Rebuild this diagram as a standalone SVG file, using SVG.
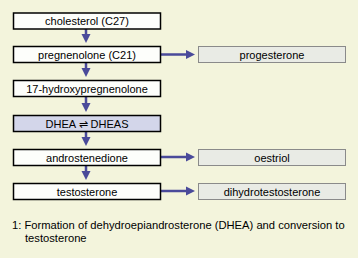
<svg xmlns="http://www.w3.org/2000/svg" width="358" height="258" viewBox="0 0 358 258">
<style>
text{font-family:"Liberation Sans",Arial,sans-serif;font-size:11px;fill:#000}
.c{text-anchor:middle}
.cap{font-size:11.2px}
.b{fill:#fdfefb;stroke:#000;stroke-width:1.5}
.d{fill:#d3d6ea;stroke:#000;stroke-width:1.5}
.r{fill:#e9ebe5;stroke:#8a8a8a;stroke-width:1}
.l{stroke:#4a4a9a;stroke-width:2.5;fill:none}
.h{fill:#4a4a9a}
</style>
<rect width="358" height="258" fill="#f3f4dc"/>
<g id="connectors">
<line class="l" x1="86" y1="29" x2="86" y2="36"/><polygon class="h" points="81.5,34 90.5,34 86,43"/>
<line class="l" x1="86" y1="63" x2="86" y2="70"/><polygon class="h" points="81.5,68 90.5,68 86,77"/>
<line class="l" x1="86" y1="97" x2="86" y2="105"/><polygon class="h" points="81.5,103 90.5,103 86,112"/>
<line class="l" x1="86" y1="132" x2="86" y2="139"/><polygon class="h" points="81.5,137 90.5,137 86,146"/>
<line class="l" x1="86" y1="166" x2="86" y2="173"/><polygon class="h" points="81.5,171 90.5,171 86,180"/>
<line class="l" x1="161" y1="54.5" x2="189" y2="54.5"/><polygon class="h" points="186,50 186,59 195,54.5"/>
<line class="l" x1="161" y1="157" x2="189" y2="157"/><polygon class="h" points="186,152.5 186,161.5 195,157"/>
<line class="l" x1="161" y1="191" x2="189" y2="191"/><polygon class="h" points="186,186.5 186,195.5 195,191"/>
</g>
<g id="cholesterol"><rect class="b" x="13.5" y="13" width="147" height="16"/><text class="c" x="87" y="25">cholesterol (C27)</text></g>
<g id="pregnenolone"><rect class="b" x="13.5" y="46.5" width="147" height="16"/><text class="c" x="87" y="58.5">pregnenolone (C21)</text></g>
<g id="hydroxy"><rect class="b" x="13.5" y="80.5" width="147" height="16"/><text class="c" x="87" y="92.5">17-hydroxypregnenolone</text></g>
<g id="dhea"><rect class="d" x="13.5" y="115.5" width="147" height="16"/><text class="c" x="87" y="127.5">DHEA ⇌ DHEAS</text></g>
<g id="androstenedione"><rect class="b" x="13.5" y="149.5" width="147" height="16"/><text class="c" x="87" y="161.5">androstenedione</text></g>
<g id="testosterone"><rect class="b" x="13.5" y="183.5" width="147" height="16"/><text class="c" x="87" y="195.5">testosterone</text></g>
<g id="progesterone"><rect class="r" x="198.5" y="46.5" width="147" height="16"/><text class="c" x="272" y="58.5">progesterone</text></g>
<g id="oestriol"><rect class="r" x="198.5" y="149.5" width="147" height="16"/><text class="c" x="272" y="161.5">oestriol</text></g>
<g id="dht"><rect class="r" x="198.5" y="183.5" width="147" height="16"/><text class="c" x="272" y="195.5">dihydrotestosterone</text></g>
<g id="caption">
<text class="cap" x="12" y="229">1: Formation of dehydroepiandrosterone (DHEA) and conversion to</text>
<text class="cap" x="25" y="242">testosterone</text>
</g>
</svg>
